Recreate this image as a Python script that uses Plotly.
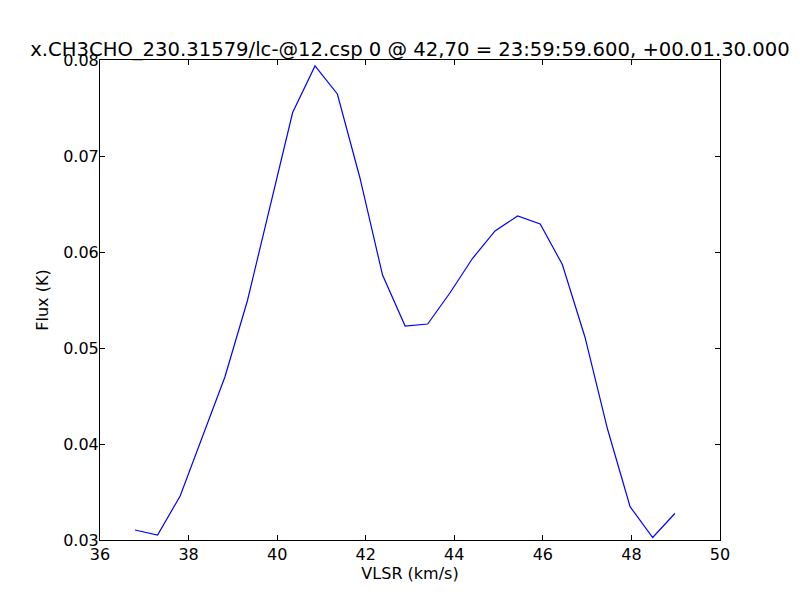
import plotly.graph_objects as go

vlsr = [36.79, 37.30, 37.81, 38.31, 38.82, 39.33, 39.84, 40.35, 40.855, 41.36,
        41.87, 42.38, 42.89, 43.40, 43.90, 44.41, 44.92, 45.43, 45.94, 46.44,
        46.95, 47.46, 47.97, 48.48, 48.98]
flux = [0.03104, 0.03052, 0.03458, 0.04073, 0.04698, 0.05495, 0.0649, 0.07453, 0.07938, 0.07646,
        0.06771, 0.05760, 0.05229, 0.05250, 0.05573, 0.05932, 0.06219, 0.06375, 0.06292, 0.05870,
        0.05115, 0.04156, 0.03347, 0.03026, 0.03276]

x_ticks = [36, 38, 40, 42, 44, 46, 48, 50]
y_ticks = [0.03, 0.04, 0.05, 0.06, 0.07, 0.08]

title_text = "x.CH3CHO_230.31579/lc-@12.csp 0 @ 42,70 = 23:59:59.600, +00.01.30.000"

fig = go.Figure()
fig.add_trace(go.Scatter(x=vlsr, y=flux, mode="lines",
                         line=dict(color="#0000ff", width=1.2), showlegend=False))

font = dict(family="DejaVu Sans", size=16, color="black")
axis_common = dict(showgrid=False, zeroline=False, showline=True, linecolor="black",
                   linewidth=1, mirror="allticks", ticks="inside", ticklen=5,
                   tickcolor="black", tickfont=font)

fig.update_layout(
    width=792, height=592,
    margin=dict(l=92, r=80, t=52, b=60),
    paper_bgcolor="white", plot_bgcolor="white",
    font=font,
    title=dict(text=title_text, x=0.5, xref="paper", xanchor="center",
               y=1, yref="paper", yanchor="bottom", pad=dict(b=4),
               font=dict(family="DejaVu Sans", size=19.6, color="black")),
    xaxis=dict(range=[36, 50], tickvals=x_ticks, ticktext=[str(v) for v in x_ticks],
               title=dict(text="VLSR (km/s)", font=font, standoff=4), **axis_common),
    yaxis=dict(range=[0.03, 0.08], tickvals=y_ticks, ticktext=["%.2f" % v for v in y_ticks],
               ticklabelstandoff=-3,
               title=dict(text="Flux (K)", font=font, standoff=10), **axis_common),
)

fig.write_html("out.html")
